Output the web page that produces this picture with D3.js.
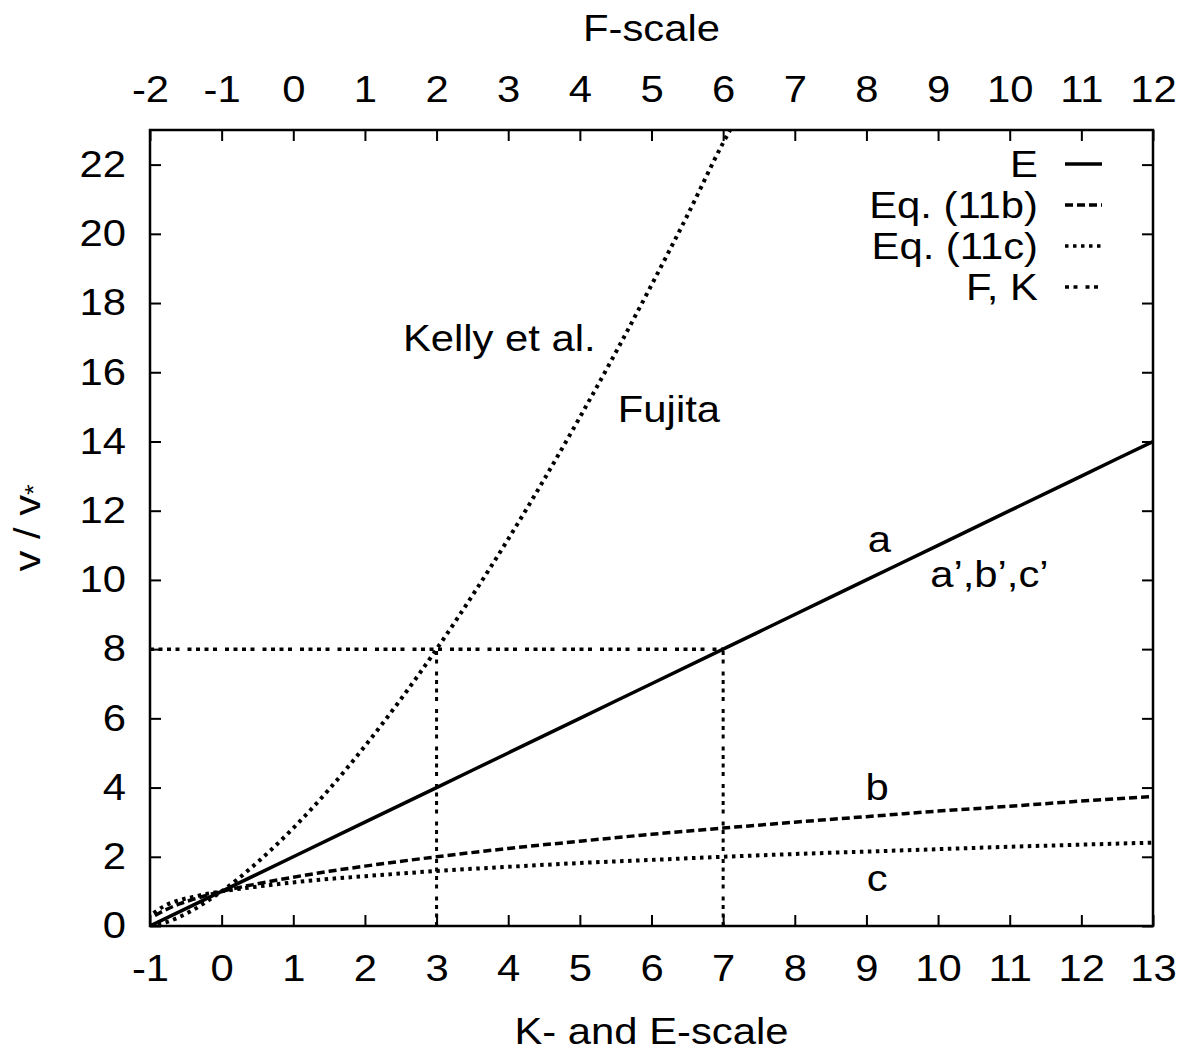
<!DOCTYPE html>
<html>
<head>
<meta charset="utf-8">
<script src="https://cdn.jsdelivr.net/npm/d3@7"></script>
<style>
  body { margin: 0; background: #fff; }
  svg text { font-family: "Liberation Sans", Arial, Helvetica, sans-serif; fill: #000; }
</style>
</head>
<body>
<svg id="chart" width="1187" height="1052"></svg>
<script>
// K / E scale (bottom) and F scale (top)
let kTicks = [-1, 0, 1, 2, 3, 4, 5, 6, 7, 8, 9, 10, 11, 12, 13];
let fTicks = [-2, -1, 0, 1, 2, 3, 4, 5, 6, 7, 8, 9, 10, 11, 12];
let vTicks = [0, 2, 4, 6, 8, 10, 12, 14, 16, 18, 20, 22];

// E (solid)
let kE = [-1, 0, 1, 2, 3, 4, 5, 6, 7, 8, 9, 10, 11, 12, 13];
let vE = [0, 1, 2, 3, 4, 5, 6, 7, 8, 9, 10, 11, 12, 13, 14];

// Eq. (11b) (dashed, "b")
let kB = [-0.93, -0.8, -0.6, -0.4, -0.2, 0, 0.5, 1, 1.5, 2, 3, 4, 5, 6, 7, 8, 9, 10, 11, 12, 13];
let vB = [0.3, 0.45, 0.63, 0.77, 0.89, 1.0, 1.22, 1.41, 1.58, 1.73, 2.0, 2.24, 2.45, 2.65, 2.83, 3.0, 3.16, 3.32, 3.46, 3.61, 3.74];

// Eq. (11c) (dotted, "c")
let kC = [-0.95, -0.8, -0.6, -0.4, -0.2, 0, 0.5, 1, 1.5, 2, 3, 4, 5, 6, 7, 8, 9, 10, 11, 12, 13];
let vC = [0.37, 0.58, 0.74, 0.84, 0.93, 1.0, 1.14, 1.26, 1.36, 1.44, 1.59, 1.71, 1.82, 1.91, 2.0, 2.08, 2.15, 2.22, 2.29, 2.35, 2.41];

// Fujita curve (dotted)
let kF = [-1, -0.8, -0.6, -0.4, -0.2, 0, 0.5, 1, 1.5, 2, 2.5, 3, 3.5, 4, 4.5, 5, 5.5, 6, 6.5, 7, 7.2];
let vF = [0, 0.09, 0.25, 0.46, 0.72, 1.0, 1.84, 2.83, 3.95, 5.2, 6.55, 8.0, 9.55, 11.18, 12.9, 14.7, 16.57, 18.52, 20.53, 22.63, 23.38];

// F, K reference lines
let refK = [3, 7];
let refV = 8;

let legendNames = ["E", "Eq. (11b)", "Eq. (11c)", "F, K"];

let dashes = {
    solid: null,
    dashed: "8 4",
    dotted: "3.5 4.5",
    dotted2: "4 4.5 4 4.5 4 4.5 4 8"
};

let fontSize = 37;
let stretchX = 1.13;   // the reference font is wider than Liberation Sans
let plotLeft = 150, plotRight = 1153, plotTop = 130, plotBottom = 926;

let svg = d3.select("#chart");

let xScale = d3.scaleLinear().domain([-1, 13]).range([plotLeft, plotRight]);
let fScale = d3.scaleLinear().domain([-2, 12]).range([plotLeft, plotRight]);
let yScale = d3.scaleLinear().domain([0, 23]).range([plotBottom, plotTop]);

// widen text horizontally around its own anchor point
function stretch(sel) {
    sel.each(function() {
        let t = d3.select(this);
        let x = +t.attr("x") || 0, y = +t.attr("y") || 0;
        t.attr("transform", "translate(" + x + "," + y + ") scale(" + stretchX + ",1) translate(" + (-x) + "," + (-y) + ")");
    });
}

svg.append("defs").append("clipPath").attr("id", "plotClip")
    .append("rect")
    .attr("x", plotLeft).attr("y", plotTop)
    .attr("width", plotRight - plotLeft).attr("height", plotBottom - plotTop);

function styleAxis(g) {
    g.select(".domain").remove();
    g.selectAll(".tick line").attr("stroke", "#000").attr("stroke-width", 2);
    g.selectAll("text").style("font-size", fontSize + "px").attr("fill", "#000").call(stretch);
}

let plainNum = function(d) { return String(d); };

// axes, ticks pointing inward
svg.append("g")
    .attr("transform", "translate(0," + plotBottom + ")")
    .call(d3.axisBottom(xScale).tickValues(kTicks).tickSize(-11).tickPadding(29).tickFormat(plainNum))
    .call(styleAxis);

svg.append("g")
    .attr("transform", "translate(0," + plotTop + ")")
    .call(d3.axisTop(fScale).tickValues(fTicks).tickSize(-11).tickPadding(28).tickFormat(plainNum))
    .call(styleAxis);

svg.append("g")
    .attr("transform", "translate(" + plotLeft + ",0)")
    .call(d3.axisLeft(yScale).tickValues(vTicks).tickSize(-11).tickPadding(24).tickFormat(plainNum))
    .call(styleAxis);

svg.append("g")
    .attr("transform", "translate(" + plotRight + ",0)")
    .call(d3.axisRight(yScale).tickValues(vTicks).tickSize(-11).tickFormat(""))
    .call(styleAxis);

// frame
svg.append("rect")
    .attr("x", plotLeft).attr("y", plotTop)
    .attr("width", plotRight - plotLeft).attr("height", plotBottom - plotTop)
    .attr("fill", "none").attr("stroke", "#000").attr("stroke-width", 2.5);

// axis titles
svg.append("text")
    .attr("x", (plotLeft + plotRight) / 2).attr("y", 41)
    .attr("text-anchor", "middle")
    .style("font-size", fontSize + "px")
    .text("F-scale")
    .call(stretch);

svg.append("text")
    .attr("x", (plotLeft + plotRight) / 2).attr("y", 1044)
    .attr("text-anchor", "middle")
    .style("font-size", fontSize + "px")
    .text("K- and E-scale")
    .call(stretch);

let yLabel = svg.append("text")
    .attr("transform", "translate(40," + ((plotTop + plotBottom) / 2) + ") rotate(-90) scale(" + stretchX + ",1)")
    .attr("text-anchor", "middle")
    .style("font-size", fontSize + "px");
yLabel.append("tspan").text("v / v");
yLabel.append("tspan").attr("dy", 2).style("font-size", "24px").text("*");

let plot = svg.append("g").attr("clip-path", "url(#plotClip)");

let line = d3.line()
    .x(function(d) { return xScale(d[0]); })
    .y(function(d) { return yScale(d[1]); })
    .curve(d3.curveMonotoneX);

function drawSeries(ks, vs, dash, width) {
    plot.append("path")
        .datum(d3.zip(ks, vs))
        .attr("d", line)
        .attr("fill", "none")
        .attr("stroke", "#000")
        .attr("stroke-width", width)
        .attr("stroke-dasharray", dash);
}

// F, K reference lines at v = 8
plot.append("line")
    .attr("x1", xScale(-1)).attr("x2", xScale(refK[1]))
    .attr("y1", yScale(refV)).attr("y2", yScale(refV))
    .attr("stroke", "#000").attr("stroke-width", 3.5)
    .attr("stroke-dasharray", dashes.dotted2);
refK.forEach(function(k) {
    plot.append("line")
        .attr("x1", xScale(k)).attr("x2", xScale(k))
        .attr("y1", yScale(0)).attr("y2", yScale(refV))
        .attr("stroke", "#000").attr("stroke-width", 3)
        .attr("stroke-dasharray", dashes.dotted2);
});

drawSeries(kF, vF, dashes.dotted, 4);
drawSeries(kC, vC, dashes.dotted, 4);
drawSeries(kB, vB, dashes.dashed, 3.5);
drawSeries(kE, vE, dashes.solid, 3.5);

// curve annotations (data coordinates)
let annotations = [
    { text: "Kelly et al.", k: 2.53, v: 16.6, anchor: "start" },
    { text: "Fujita", k: 5.53, v: 14.57, anchor: "start" },
    { text: "a", k: 9.18, v: 10.8, anchor: "middle" },
    { text: "a\u2019,b\u2019,c\u2019", k: 9.89, v: 9.8, anchor: "start" },
    { text: "b", k: 9.15, v: 3.64, anchor: "middle" },
    { text: "c", k: 9.15, v: 1.0, anchor: "middle" }
];
annotations.forEach(function(a) {
    svg.append("text")
        .attr("x", xScale(a.k)).attr("y", yScale(a.v))
        .attr("text-anchor", a.anchor)
        .style("font-size", fontSize + "px")
        .text(a.text)
        .call(stretch);
});

// legend
let legendStyles = [dashes.solid, dashes.dashed, dashes.dotted, dashes.dotted2];
let legendOffsets = [0, 0, 0, 17];
legendNames.forEach(function(name, i) {
    let y = 164 + i * 41;
    svg.append("text")
        .attr("x", 1038).attr("y", y)
        .attr("dy", "0.35em")
        .attr("text-anchor", "end")
        .style("font-size", fontSize + "px")
        .text(name)
        .call(stretch);
    svg.append("line")
        .attr("x1", 1065).attr("x2", 1102)
        .attr("y1", y).attr("y2", y)
        .attr("stroke", "#000").attr("stroke-width", 3.5)
        .attr("stroke-dasharray", legendStyles[i])
        .attr("stroke-dashoffset", legendOffsets[i]);
});
</script>
</body>
</html>
